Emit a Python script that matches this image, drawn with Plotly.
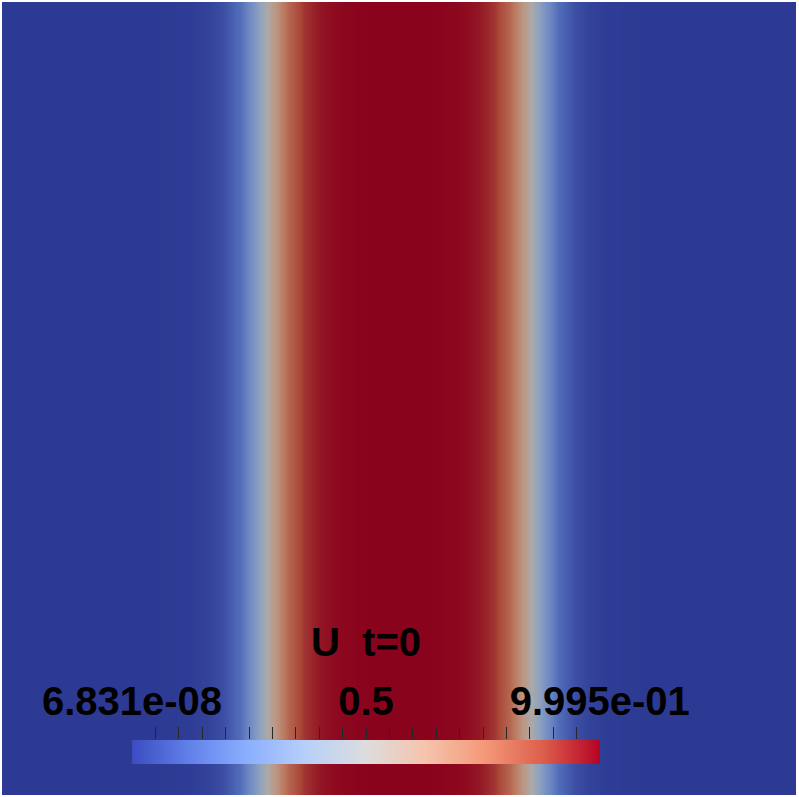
import plotly.graph_objects as go

# field U(x) at t=0, sampled across the domain (constant in y)
x_pos = [0.00, 0.02, 0.04, 0.06, 0.08, 0.10, 0.12, 0.14, 0.16, 0.18,
         0.20, 0.22, 0.24, 0.26, 0.28, 0.30, 0.32, 0.34, 0.36, 0.38,
         0.40, 0.42, 0.44, 0.46, 0.48, 0.50, 0.52, 0.54, 0.56, 0.58,
         0.60, 0.62, 0.64, 0.66, 0.68, 0.70, 0.72, 0.74, 0.76, 0.78,
         0.80, 0.82, 0.84, 0.86, 0.88, 0.90, 0.92, 0.94, 0.96, 0.98, 1.00]
u_vals = [6.831e-08, 1.6e-07, 4.3e-07, 1.2e-06, 3.1e-06, 8.6e-06, 2.3e-05, 6.3e-05, 1.7e-04, 4.7e-04,
          0.00127, 0.00345, 0.0093, 0.0249, 0.065, 0.159, 0.339, 0.582, 0.791, 0.912,
          0.9655, 0.987, 0.9952, 0.9982, 0.9993, 0.9995, 0.9993, 0.9982, 0.9952, 0.987,
          0.9655, 0.912, 0.791, 0.582, 0.339, 0.159, 0.065, 0.0249, 0.0093, 0.00345,
          0.00127, 4.7e-04, 1.7e-04, 6.3e-05, 2.3e-05, 8.6e-06, 3.1e-06, 1.2e-06, 4.3e-07, 1.6e-07, 6.831e-08]
y_pos = [0.0, 1.0]

u_min = 6.831e-08
u_max = 0.9995
label_vals = [u_min, 0.5, u_max]
label_text = ['6.831e-08', '0.5', '9.995e-01']
minor_vals = [0.05, 0.10, 0.15, 0.20, 0.25, 0.30, 0.35, 0.40, 0.45, 0.50,
              0.55, 0.60, 0.65, 0.70, 0.75, 0.80, 0.85, 0.90, 0.95, 1.00]

# ParaView "Cool to Warm"
cool_warm = [
    [0.0, 'rgb(59,76,192)'],
    [0.125, 'rgb(98,130,234)'],
    [0.25, 'rgb(141,176,254)'],
    [0.375, 'rgb(184,208,249)'],
    [0.5, 'rgb(221,221,221)'],
    [0.625, 'rgb(245,196,173)'],
    [0.75, 'rgb(244,154,123)'],
    [0.875, 'rgb(222,96,77)'],
    [1.0, 'rgb(180,4,38)'],
]

W, H = 799, 797
ML, MR, MT, MB = 2, 3, 2, 2
pw, ph = W - ML - MR, H - MT - MB

# colour bar placement (pixels in the page)
bar_x0, bar_x1, bar_top, bar_bot = 132, 600, 740, 764

txt_font = dict(family='Liberation Sans', size=40, color='black', weight='bold')

fig = go.Figure()
fig.add_trace(go.Heatmap(
    x=x_pos, y=y_pos, z=[u_vals, u_vals],
    colorscale=cool_warm, zmin=u_min, zmax=u_max, zsmooth='best',
    hoverinfo='skip',
    colorbar=dict(
        orientation='h', thicknessmode='pixels', thickness=bar_bot - bar_top,
        lenmode='pixels', len=bar_x1 - bar_x0,
        xanchor='left', x=(bar_x0 - ML) / pw,
        yanchor='top', y=(H - MB - bar_top) / ph,
        xpad=0, ypad=0, outlinewidth=0, ticks='', showticklabels=False,
    ),
))
# empty trace so the colour-bar scale axis gets drawn
fig.add_trace(go.Scatter(x=[], y=[], xaxis='x2', yaxis='y2', hoverinfo='skip'))

fig.update_layout(
    width=W, height=H,
    margin=dict(l=ML, r=MR, t=MT, b=MB, autoexpand=False),
    paper_bgcolor='white', plot_bgcolor='rgba(0,0,0,0)',
    showlegend=False,
    xaxis=dict(range=[0, 1], visible=False, domain=[0, 1], automargin=False),
    yaxis=dict(range=[0, 1], visible=False, domain=[0, 1], automargin=False),
    xaxis2=dict(
        domain=[(bar_x0 - ML) / pw, (bar_x1 - ML) / pw], anchor='y2', side='top',
        range=[0, 1], showgrid=False, zeroline=False, showline=False, automargin=False,
        tickmode='array', tickvals=label_vals, ticktext=label_text,
        ticks='inside', ticklen=9, tickcolor='#333', tickwidth=1,
        tickfont=txt_font, ticklabelstandoff=16,
        minor=dict(tickmode='array', tickvals=minor_vals, ticks='outside',
                   ticklen=12, tickcolor='#333', tickwidth=1, showgrid=False),
        title=dict(text='U\u00a0 t=0', font=txt_font, standoff=10),
    ),
    yaxis2=dict(
        domain=[(H - MB - bar_bot) / ph, (H - MB - bar_top) / ph], anchor='x2',
        range=[0, 1], visible=False, automargin=False,
    ),
    shapes=[dict(type='rect', xref='paper', yref='paper', x0=0, x1=1, y0=0, y1=1,
                 fillcolor='black', opacity=0.23, line=dict(width=0), layer='above')],
)

fig.write_html("out.html", config={'displayModeBar': False},
               post_script="document.body.style.margin='0';document.body.style.overflow='hidden';")
